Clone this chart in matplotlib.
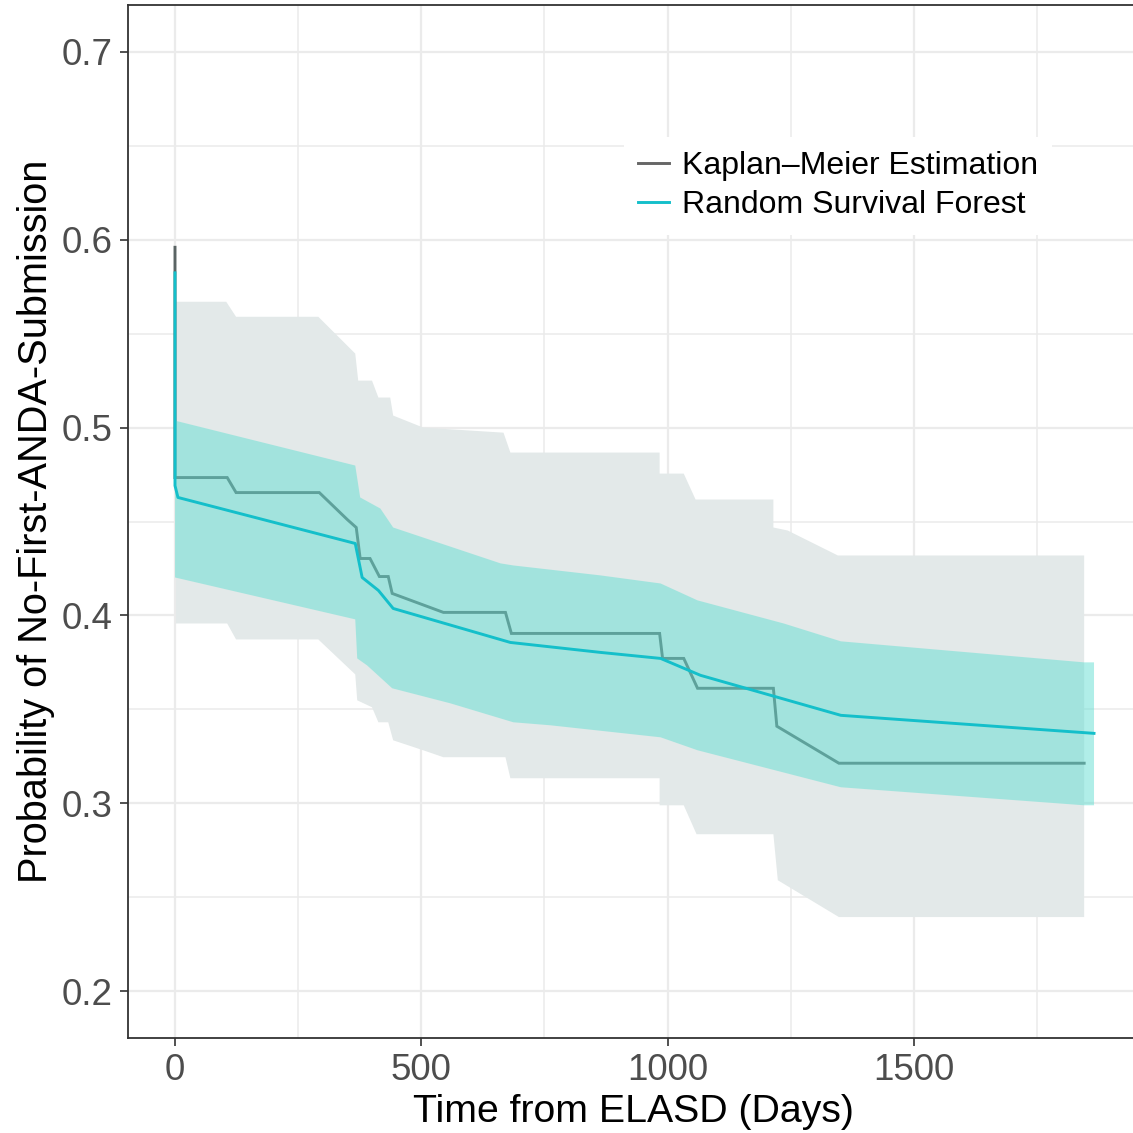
import matplotlib
matplotlib.use("Agg")
import matplotlib.pyplot as plt
import numpy as np
from matplotlib.lines import Line2D

plt.rcParams['font.family'] = ['Liberation Sans', 'DejaVu Sans']

# ---------------- data ----------------
km_days = [0, 0, 106, 124, 293, 350, 368, 376, 396, 415, 433, 441, 545, 671, 683,
           984, 990, 1033, 1061, 1215, 1222, 1348, 1846]
km_vals = [0.596, 0.4734, 0.4734, 0.4654, 0.4654, 0.4510, 0.4468, 0.4303, 0.4303,
           0.4207, 0.4207, 0.4117, 0.4016, 0.4016, 0.3904, 0.3904, 0.3771, 0.3771,
           0.3612, 0.3612, 0.3410, 0.3213, 0.3213]

km_up_days = [2, 104, 124, 291, 366, 372, 400, 413, 437, 443, 504, 667, 681, 984,
              984, 1033, 1057, 1215, 1215, 1244, 1346, 1846]
km_up_vals = [0.5670, 0.5670, 0.5590, 0.5590, 0.5394, 0.5250, 0.5250, 0.5160, 0.5160,
              0.5064, 0.5000, 0.4973, 0.4867, 0.4867, 0.4755, 0.4755, 0.4617, 0.4617,
              0.4468, 0.4452, 0.4319, 0.4319]

km_lo_days = [2, 106, 124, 291, 366, 370, 400, 413, 433, 443, 504, 545, 671, 681,
              984, 984, 1033, 1059, 1215, 1224, 1348, 1846]
km_lo_vals = [0.3957, 0.3957, 0.3872, 0.3872, 0.3686, 0.3548, 0.3511, 0.3431, 0.3431,
              0.3335, 0.3282, 0.3245, 0.3245, 0.3133, 0.3133, 0.2989, 0.2989, 0.2835,
              0.2835, 0.2590, 0.2394, 0.2394]

rsf_days = [0, 0, 6, 366, 380, 413, 443, 681, 864, 986, 1067, 1352, 1866]
rsf_vals = [0.5824, 0.4691, 0.4628, 0.4383, 0.4202, 0.4133, 0.4037, 0.3856, 0.3803,
            0.3771, 0.3681, 0.3468, 0.3372]

rsf_up_days = [0, 366, 376, 417, 443, 661, 687, 864, 986, 1061, 1236, 1352, 1846, 1866]
rsf_up_vals = [0.5037, 0.4798, 0.4628, 0.4569, 0.4468, 0.4277, 0.4266, 0.4213, 0.4170,
               0.4080, 0.3957, 0.3862, 0.3750, 0.3750]

rsf_lo_days = [0, 366, 370, 390, 441, 559, 687, 762, 986, 1061, 1352, 1846, 1866]
rsf_lo_vals = [0.4202, 0.3979, 0.3771, 0.3734, 0.3612, 0.3532, 0.3431, 0.3415, 0.3351,
               0.3282, 0.3085, 0.2989, 0.2989]

labels = ["Kaplan\u2013Meier Estimation", "Random Survival Forest"]
x_ticks = [0, 500, 1000, 1500]
y_ticks = [0.2, 0.3, 0.4, 0.5, 0.6, 0.7]

# ---------------- figure ----------------
W = H = 1133
fig = plt.figure(figsize=(W / 100, H / 100), dpi=100)
x_right_px = 1139
ax = fig.add_axes([128 / W, (H - 1038) / H, (x_right_px - 128) / W, (1038 - 5) / H])

ax.fill(np.concatenate([km_up_days, km_lo_days[::-1]]),
        np.concatenate([km_up_vals, km_lo_vals[::-1]]),
        color="#e3e9e9", lw=0, zorder=2)

ax.plot(km_days, km_vals, color="#5a6464", lw=2.1, zorder=3, solid_joinstyle="miter")

ax.fill(np.concatenate([rsf_up_days, rsf_lo_days[::-1]]),
        np.concatenate([rsf_up_vals, rsf_lo_vals[::-1]]),
        color="#62dfd2", alpha=0.5, lw=0, zorder=4)

ax.plot(rsf_days, rsf_vals, color="#14bfca", lw=2.1, zorder=5)

# axes: px per day = 0.4925, day 0 at x=175
ax.set_xlim(-(175 - 128) / 0.4925, (x_right_px - 175) / 0.4925)
ax.set_ylim(0.175, 0.725)
ax.set_xticks(x_ticks)
ax.set_yticks(y_ticks)
ax.set_xticks([250, 750, 1250, 1750], minor=True)
ax.set_yticks([0.25, 0.35, 0.45, 0.55, 0.65], minor=True)
ax.set_yticklabels([f"{v:.1f}" for v in y_ticks])
ax.grid(which="major", color="#ebebeb", lw=1.6, zorder=0)
ax.grid(which="minor", color="#ebebeb", lw=1.1, zorder=0)
ax.set_axisbelow(True)
ax.tick_params(which="major", length=6, width=1.2, color="#333333",
               labelsize=26.5, labelcolor="#4d4d4d", pad=5)
ax.tick_params(which="minor", length=0)
for s in ax.spines.values():
    s.set_color("#333333")
    s.set_linewidth(1.3)
ax.spines['right'].set_visible(False)

ax.set_xlabel("Time from ELASD (Days)", fontsize=28.3, color="black", labelpad=4)
ax.set_ylabel("Probability of No-First-ANDA-Submission", fontsize=28.6, color="black",
              labelpad=5)

handles = [Line2D([0], [0], color="#666666", lw=2.1),
           Line2D([0], [0], color="#14bfca", lw=2.1)]
leg = ax.legend(handles, labels, loc="upper left",
                bbox_to_anchor=(624 / W, (H - 137) / H),
                bbox_transform=fig.transFigure, fontsize=23, frameon=True,
                facecolor="white", edgecolor="none", framealpha=1,
                fancybox=False, borderpad=0.45, labelspacing=0.28,
                handlelength=0.95, handletextpad=0.4, borderaxespad=0)
leg.set_zorder(10)

fig.savefig("out.png", dpi=100)
